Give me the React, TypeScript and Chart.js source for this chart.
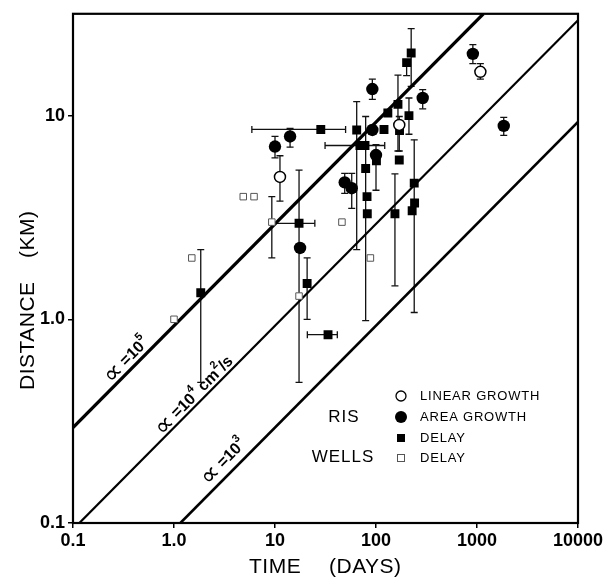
import React, { useEffect, useRef } from "react";
import { Chart, registerables } from "chart.js";

Chart.register(...registerables);

const FONT = '"Liberation Sans", Arial, Helvetica, sans-serif';

// Axis ticks
const xTickValues = [0.1, 1, 10, 100, 1000, 10000];
const xTickLabels = ["0.1", "1.0", "10", "100", "1000", "10000"];
const yTickValues = [0.1, 1, 10];
const yTickLabels = ["0.1", "1.0", "10"];
const xRange = [0.1, 10000];
const yRange = [0.1, 31.6];

// RIS linear growth: [time (days), distance (km), distance low, distance high]
const risLinearGrowth: (number | null)[][] = [
  [11.2, 5.0, 3.8, 6.35],
  [170, 9.0, 6.7, 9.9],
  [1080, 16.4, 15.1, 18.0],
];

// RIS area growth: [time, distance, distance low, distance high]
const risAreaGrowth: (number | null)[][] = [
  [10, 7.05, 6.2, 7.9],
  [14.1, 7.9, 7.0, 8.65],
  [17.7, 2.24, null, null],
  [49, 4.7, 4.15, 5.2],
  [57.5, 4.4, 3.5, 5.2],
  [92, 13.5, 12.0, 15.1],
  [92, 8.5, null, null],
  [100, 6.4, 4.3, 7.2],
  [290, 12.2, 10.8, 13.4],
  [910, 20.1, 18.0, 22.3],
  [1840, 8.9, 8.0, 9.8],
];

// RIS delay: [time, distance, time low, time high, distance low, distance high]
const risDelay: (number | null)[][] = [
  [1.84, 1.35, null, null, 0.49, 2.2],
  [17.3, 2.96, 9.4, 24.8, 0.49, 5.4],
  [20.8, 1.5, null, null, 1.0, 2.0],
  [33.5, 0.84, 20.9, 41.4, null, null],
  [28.4, 8.55, 5.9, 50, null, null],
  [64.4, 8.5, null, null, 2.2, 11.7],
  [120, 8.55, null, null, null, null],
  [171, 8.45, null, null, null, null],
  [69.3, 7.13, 31.3, 122, null, null],
  [77.8, 7.13, null, null, null, null],
  [79, 5.5, null, null, 0.985, 9.9],
  [81.5, 4.0, null, null, null, null],
  [82, 3.3, null, null, null, null],
  [101, 6.0, null, null, null, null],
  [131, 10.3, null, null, null, null],
  [165, 11.35, null, null, 6.7, 15.8],
  [201, 18.2, null, null, 15.7, null],
  [223, 20.3, null, null, 13.9, 26.7],
  [212, 10.0, null, null, 8.1, 12.2],
  [170, 6.05, null, null, null, null],
  [154, 3.3, null, null, 1.46, 5.17],
  [239, 4.66, null, null, 1.08, 7.6],
  [241, 3.72, null, null, null, null],
  [228, 3.41, null, null, null, null],
];

// Wells delay: [time, distance, distance low, distance high]
const wellsDelay: (number | null)[][] = [
  [1.0, 1.0, null, null],
  [1.5, 2.0, null, null],
  [4.85, 4.0, null, null],
  [6.2, 4.0, null, null],
  [9.3, 3.0, 2.0, 4.0],
  [17.3, 1.3, null, null],
  [46, 3.0, null, null],
  [88, 2.0, null, null],
];

// Diffusivity reference lines (end points, time in days, distance in km)
const alpha1e5Line = [[0.1, 0.294], [1157, 31.6]];
const alpha1e4Line = [[0.1, 0.093], [10000, 29.4]];
const alpha1e3Line = [[1.157, 0.1], [10000, 9.3]];

// Line labels: segments [text, style] (0 normal, 1 superscript, 2 symbol), anchor [time, distance]
const alpha1e5Label: [string, number][] = [["\u221D", 2], [" =10", 0], ["5", 1]];
const alpha1e4Label: [string, number][] = [["\u221D", 2], [" =10", 0], ["4", 1], [" cm", 0], ["2", 1], ["/s", 0]];
const alpha1e3Label: [string, number][] = [["\u221D", 2], [" =10", 0], ["3", 1]];
const alpha1e5LabelAt = [0.339, 0.632];
const alpha1e4LabelAt = [1.59, 0.423];
const alpha1e3LabelAt = [3.1, 0.2];

const legendLabels = ["LINEAR GROWTH", "AREA GROWTH", "DELAY", "DELAY"];
const groupLabels = ["RIS", "WELLS"];
const xTitle = ["TIME", "(DAYS)"];
const yTitle = ["DISTANCE", "(KM)"];

const errorBarPlugin = {
  id: "errorBars",
  beforeDatasetsDraw(chart: any) {
    const { ctx, chartArea } = chart;
    const xs = chart.scales.x;
    const ys = chart.scales.y;
    ctx.save();
    ctx.beginPath();
    ctx.rect(chartArea.left, chartArea.top, chartArea.right - chartArea.left, chartArea.bottom - chartArea.top);
    ctx.clip();
    ctx.strokeStyle = "#111";
    ctx.lineWidth = 1.3;
    const seg = (a: number, b: number, c: number, d: number) => {
      ctx.beginPath();
      ctx.moveTo(a, b);
      ctx.lineTo(c, d);
      ctx.stroke();
    };
    const cap = 3.5;
    chart.data.datasets.forEach((ds: any) => {
      (ds.errorBars || []).forEach((e: any) => {
        const px = xs.getPixelForValue(e.x);
        const py = ys.getPixelForValue(e.y);
        if (e.yl != null || e.yh != null) {
          const y1 = ys.getPixelForValue(e.yh != null ? e.yh : e.y);
          const y2 = ys.getPixelForValue(e.yl != null ? e.yl : e.y);
          seg(px, y1, px, y2);
          if (e.yh != null) seg(px - cap, y1, px + cap, y1);
          if (e.yl != null) seg(px - cap, y2, px + cap, y2);
        }
        if (e.xl != null || e.xh != null) {
          const x1 = xs.getPixelForValue(e.xl != null ? e.xl : e.x);
          const x2 = xs.getPixelForValue(e.xh != null ? e.xh : e.x);
          seg(x1, py, x2, py);
          if (e.xl != null) seg(x1, py - cap, x1, py + cap);
          if (e.xh != null) seg(x2, py - cap, x2, py + cap);
        }
      });
    });
    ctx.restore();
  },
};

const framePlugin = {
  id: "frame",
  afterDatasetsDraw(chart: any) {
    const { ctx, chartArea } = chart;
    ctx.save();
    ctx.strokeStyle = "#000";
    ctx.lineWidth = 2.2;
    ctx.strokeRect(chartArea.left, chartArea.top, chartArea.right - chartArea.left, chartArea.bottom - chartArea.top);
    ctx.restore();
  },
};

function drawRich(ctx: any, segs: [string, number][], x: number, y: number, angle: number, size: number) {
  ctx.save();
  ctx.translate(x, y);
  ctx.rotate(angle);
  ctx.textBaseline = "middle";
  ctx.textAlign = "left";
  ctx.fillStyle = "#000";
  const font = (style: number) =>
    style === 2
      ? `${Math.round(size * 1.6)}px "DejaVu Sans", sans-serif`
      : `bold ${style === 1 ? Math.round(size * 0.7) : size}px ${FONT}`;
  let total = 0;
  segs.forEach(([t, st]) => {
    ctx.font = font(st);
    total += ctx.measureText(t).width;
  });
  let cx = -total / 2;
  segs.forEach(([t, st]) => {
    ctx.font = font(st);
    ctx.fillText(t, cx, st === 1 ? -size * 0.45 : st === 2 ? 1 : 0);
    cx += ctx.measureText(t).width;
  });
  ctx.restore();
}

const annotationPlugin = {
  id: "annotations",
  afterDraw(chart: any) {
    const { ctx } = chart;
    const xs = chart.scales.x;
    const ys = chart.scales.y;
    ctx.save();
    ctx.fillStyle = "#000";
    ctx.strokeStyle = "#000";

    // line labels
    const lineAngle = (line: number[][]) => {
      const x1 = xs.getPixelForValue(line[0][0]);
      const y1 = ys.getPixelForValue(line[0][1]);
      const x2 = xs.getPixelForValue(line[1][0]);
      const y2 = ys.getPixelForValue(line[1][1]);
      return Math.atan2(y2 - y1, x2 - x1);
    };
    drawRich(ctx, alpha1e5Label, xs.getPixelForValue(alpha1e5LabelAt[0]), ys.getPixelForValue(alpha1e5LabelAt[1]), lineAngle(alpha1e5Line), 16);
    drawRich(ctx, alpha1e4Label, xs.getPixelForValue(alpha1e4LabelAt[0]), ys.getPixelForValue(alpha1e4LabelAt[1]), lineAngle(alpha1e4Line), 16);
    drawRich(ctx, alpha1e3Label, xs.getPixelForValue(alpha1e3LabelAt[0]), ys.getPixelForValue(alpha1e3LabelAt[1]), lineAngle(alpha1e3Line), 16);

    // axis titles
    ctx.textBaseline = "middle";
    ctx.font = `21px ${FONT}`;
    (ctx as any).letterSpacing = "0.5px";
    ctx.textAlign = "left";
    ctx.fillText(xTitle[0], 249, 567);
    ctx.fillText(xTitle[1], 329, 567);
    ctx.save();
    ctx.translate(28, 0);
    ctx.rotate(-Math.PI / 2);
    ctx.textAlign = "left";
    ctx.fillText(yTitle[0], -390, 0);
    ctx.fillText(yTitle[1], -258, 0);
    ctx.restore();

    // legend
    const mx = 401;
    const rows = [396, 417, 438, 458];
    ctx.lineWidth = 1.3;
    ctx.fillStyle = "#fff";
    ctx.beginPath();
    ctx.arc(mx, rows[0], 5, 0, Math.PI * 2);
    ctx.fill();
    ctx.stroke();
    ctx.fillStyle = "#000";
    ctx.beginPath();
    ctx.arc(mx, rows[1], 6, 0, Math.PI * 2);
    ctx.fill();
    ctx.fillRect(mx - 4, rows[2] - 4, 8, 8);
    ctx.lineWidth = 1;
    ctx.strokeStyle = "#555";
    ctx.strokeRect(mx - 3.5, rows[3] - 3.5, 7, 7);

    ctx.fillStyle = "#000";
    ctx.font = `13px ${FONT}`;
    (ctx as any).letterSpacing = "0.8px";
    ctx.textAlign = "left";
    legendLabels.forEach((t, i) => ctx.fillText(t, 420, rows[i] + 0.5));

    ctx.font = `17px ${FONT}`;
    (ctx as any).letterSpacing = "1px";
    ctx.textAlign = "center";
    ctx.fillText(groupLabels[0], 344, rows[1]);
    ctx.fillText(groupLabels[1], 343, rows[3] - 1);
    ctx.restore();
  },
};

function findLabel(values: number[], labels: string[], v: number) {
  for (let i = 0; i < values.length; i++) {
    if (Math.abs(Math.log10(values[i]) - Math.log10(v)) < 1e-6) return labels[i];
  }
  return "";
}

export default function App() {
  const ref = useRef<HTMLCanvasElement>(null);
  useEffect(() => {
    document.body.style.margin = "0";
    const canvas = ref.current!;
    const lineDs = (pts: number[][], width: number) => ({
      data: pts.map((p) => ({ x: p[0], y: p[1] })),
      showLine: true,
      pointRadius: 0,
      borderColor: "#000",
      borderWidth: width,
      fill: false,
    });
    const chart = new Chart(canvas, {
      type: "scatter",
      data: {
        datasets: [
          {
            label: "RIS linear growth",
            data: risLinearGrowth.map((r) => ({ x: r[0], y: r[1] })),
            pointStyle: "circle",
            pointRadius: 5.5,
            pointBorderWidth: 1.5,
            pointBorderColor: "#000",
            pointBackgroundColor: "#fff",
            errorBars: risLinearGrowth.map((r) => ({ x: r[0], y: r[1], yl: r[2], yh: r[3] })),
          } as any,
          {
            label: "RIS area growth",
            data: risAreaGrowth.map((r) => ({ x: r[0], y: r[1] })),
            pointStyle: "circle",
            pointRadius: 6.2,
            pointBorderWidth: 0,
            pointBorderColor: "#000",
            pointBackgroundColor: "#000",
            errorBars: risAreaGrowth.map((r) => ({ x: r[0], y: r[1], yl: r[2], yh: r[3] })),
          } as any,
          {
            label: "RIS delay",
            data: risDelay.map((r) => ({ x: r[0], y: r[1] })),
            pointStyle: "rect",
            pointRadius: 6.3,
            pointBorderWidth: 0,
            pointBorderColor: "#000",
            pointBackgroundColor: "#000",
            errorBars: risDelay.map((r) => ({ x: r[0], y: r[1], xl: r[2], xh: r[3], yl: r[4], yh: r[5] })),
          } as any,
          {
            label: "Wells delay",
            data: wellsDelay.map((r) => ({ x: r[0], y: r[1] })),
            pointStyle: "rect",
            pointRadius: 4.6,
            pointBorderWidth: 1,
            pointBorderColor: "#555",
            pointBackgroundColor: "#fff",
            errorBars: wellsDelay.map((r) => ({ x: r[0], y: r[1], yl: r[2], yh: r[3] })),
          } as any,
          lineDs(alpha1e5Line, 3.2) as any,
          lineDs(alpha1e4Line, 2.2) as any,
          lineDs(alpha1e3Line, 2.6) as any,
        ],
      },
      options: {
        animation: false,
        responsive: false,
        devicePixelRatio: 1,
        layout: { padding: { left: 0, right: 28, top: 8, bottom: 0 } },
        plugins: { legend: { display: false }, tooltip: { enabled: false } },
        scales: {
          x: {
            type: "logarithmic",
            position: "bottom",
            min: xRange[0],
            max: xRange[1],
            afterBuildTicks: (scale: any) => {
              scale.ticks = xTickValues.map((v) => ({ value: v }));
            },
            afterFit: (scale: any) => {
              scale.height = 58;
            },
            ticks: {
              autoSkip: false,
              maxRotation: 0,
              padding: 2,
              color: "#000",
              font: { family: FONT, size: 18, weight: "bold" },
              callback: (v: any) => findLabel(xTickValues, xTickLabels, Number(v)),
            },
            grid: { display: true, drawOnChartArea: false, drawTicks: true, tickLength: 5, color: "#000", lineWidth: 1.5 },
            border: { display: false },
          },
          y: {
            type: "logarithmic",
            position: "left",
            min: yRange[0],
            max: yRange[1],
            afterBuildTicks: (scale: any) => {
              scale.ticks = yTickValues.map((v) => ({ value: v }));
            },
            afterFit: (scale: any) => {
              scale.width = 73;
            },
            ticks: {
              autoSkip: false,
              padding: 3,
              color: "#000",
              font: { family: FONT, size: 18, weight: "bold" },
              callback: (v: any) => findLabel(yTickValues, yTickLabels, Number(v)),
            },
            grid: { display: true, drawOnChartArea: false, drawTicks: true, tickLength: 5, color: "#000", lineWidth: 1.5 },
            border: { display: false },
          },
        },
      } as any,
      plugins: [errorBarPlugin, framePlugin, annotationPlugin],
    });
    return () => chart.destroy();
  }, []);
  return (
    <div style={{ position: "fixed", left: 0, top: 0, width: 606, height: 581, background: "#fff" }}>
      <canvas ref={ref} width={606} height={581} style={{ display: "block", width: 606, height: 581 }} />
    </div>
  );
}
